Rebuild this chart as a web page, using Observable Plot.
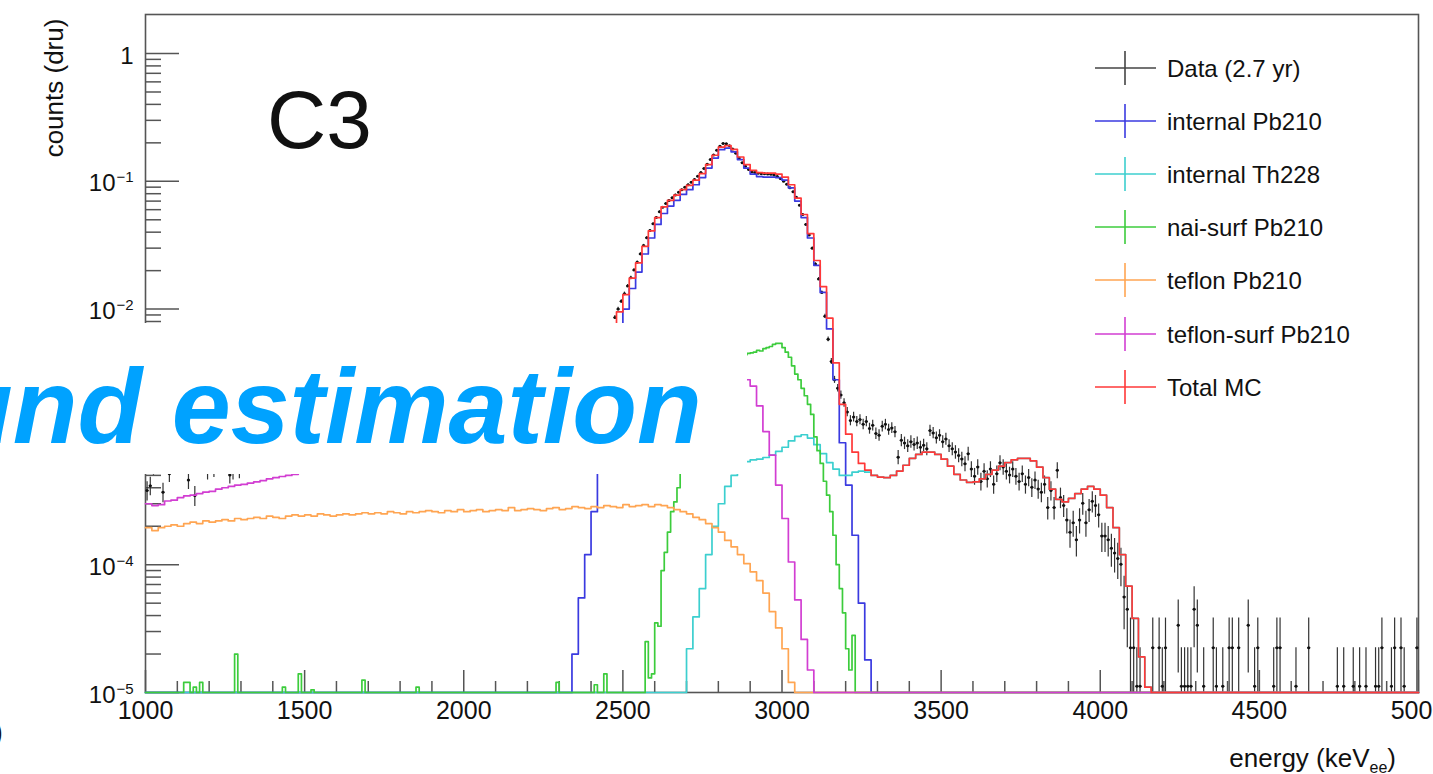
<!DOCTYPE html>
<html><head><meta charset="utf-8">
<script src="https://cdn.jsdelivr.net/npm/d3@7"></script>
<script src="https://cdn.jsdelivr.net/npm/@observablehq/plot@0.6"></script>
<style>
html,body{margin:0;padding:0;background:#fff;overflow:hidden;}
#wrap{position:relative;width:1433px;height:774px;font-family:"Liberation Sans",Arial,Helvetica,sans-serif;}
#wrap svg{position:absolute;left:0;top:0;overflow:visible;}
</style></head><body><div id="wrap"></div>
<script>
// ---------------- axis ticks ----------------
const xTickValues = [1000,1500,2000,2500,3000,3500,4000,4500,5000];
const yTickValues = [1e-5,1e-4,1e-3,1e-2,1e-1,1];
// 10^-3 label lies under the slide-title banner in the reference, so it is left blank
const yTickExponents = ["−5","−4",null,"−2","−1",""];
const yMin = 1e-5, yMax = 2.02;

// ---------------- legend ----------------
const legendLabels = ["Data (2.7 yr)","internal Pb210","internal Th228","nai-surf Pb210","teflon Pb210","teflon-surf Pb210","Total MC"];
const legendColors = ["#444","#3a3ae0","#3ccfcf","#3ccc3c","#ffa552","#d23ed2","#ff3838"];

// ---------------- data (counts per 10 keV bin) ----------------
const druPerCount = 1.12e-5;
const dataLowStart = 1000; // 10 keV bins
const dataLowN = [34,37,52,58,55,33,60,46,57,62,60,57,55,41,60,31,62,58,64,48,61,50,62,66,60,64,45,48,62,49];
const dataMidStart = 1300, dataMidStep = 20; // region hidden behind the title banner
const dataMidN = [60,58,63,61,66,64,68,70,67,72,
  74,71,76,78,75,80,83,79,85,88,
  86,91,94,90,96,99,97,103,106,104,
  110,113,117,115,121,125,123,130,134,132,
  139,143,148,146,153,158,162,160,168,173,
  178,185,192,205,225,260,320,420,600];
const dataHighStart = 2470; // 10 keV bins
const dataHighN = [768,893,1027,1179,1357,1571,1804,2080,2411,2813,
  3232,3679,4152,4661,5161,5607,5982,6321,6652,6982,
  7321,7679,8036,8411,8795,9241,9777,10446,11250,12143,
  13214,14375,15625,16786,17679,17589,16964,15982,14821,13571,
  12500,11696,11071,10625,10446,10313,10250,10223,10196,10134,
  10000,9732,9375,8929,8482,7946,7411,6696,5804,4911,
  4107,3393,2679,2009,1536,1205,786,518,348,250,
  215,190,165,140,120,128,118,122,112,118,
  104,110,95,92,108,112,102,105,98,62,
  84,80,76,82,78,80,74,77,72,100,
  96,88,92,82,86,76,72,68,64,60,
  55,66,50,44,52,40,48,42,50,38,
  46,56,52,48,45,50,44,40,46,38,
  43,36,41,35,33,38,25,34,25,49,
  30,26,20,16,19,14,20,27,19,24,
  28,26,22,15,15,14,12,11,10,9,
  5,4,2,2,1,1,0];
const dataTailE = [4160,4180,4190,4200,4240,4250,4260,4270,4280,4290,4300,4320,4350,4360,4380,4400,4410,4430,4460,4480,4490,4540,4550,4560,4610,4650,4740,4760,4790,4810,4830,4860,4870,4880,4910,4920,4940,4950,4990];
const dataTailN = [2,2,1,2,3,1,1,1,1,4,3,1,2,1,1,2,2,2,3,1,2,1,2,2,1,2,1,1,1,1,1,1,1,2,1,2,2,1,2];

// ---------------- MC histograms (dru) ----------------
const blueStart = 2340; // internal Pb210, 20 keV bins
const blueValues = [2.0e-5,5.5e-5,1.2e-4,2.6e-4,5.5e-4,1.4e-3,3.6e-3,6.5e-3,1.0e-2,1.45e-2,
  1.95e-2,2.7e-2,3.6e-2,4.6e-2,5.6e-2,6.4e-2,7.1e-2,7.9e-2,8.6e-2,9.4e-2,
  0.107,0.127,0.152,0.177,0.182,0.17,0.148,0.127,0.114,0.109,
  0.108,0.108,0.107,0.102,0.089,0.07,0.052,0.036,0.022,0.0135,
  0.007,2.8e-3,9e-4,4.2e-4,1.7e-4,5e-5,1.8e-5];
const cyanStart = 2700; // internal Th228, 20 keV bins
const cyanValues = [2.2e-5,3.9e-5,6.5e-5,1.2e-4,2.0e-4,3.0e-4,4.1e-4,5.0e-4,5.8e-4,6.4e-4,
  6.6e-4,6.7e-4,6.9e-4,7.2e-4,7.7e-4,8.3e-4,9.3e-4,1.01e-3,1.04e-3,9.8e-4,
  8.7e-4,7.4e-4,6.3e-4,5.6e-4,5.0e-4,5.0e-4,5.3e-4,5.4e-4,5.3e-4,5.0e-4,
  4.85e-4,4.8e-4,5.0e-4,5.4e-4,6.0e-4,6.8e-4,7.3e-4,7.6e-4,7.6e-4,7.3e-4,
  6.7e-4,5.9e-4,5.1e-4,4.6e-4,4.4e-4,4.45e-4,4.7e-4,5.1e-4,5.5e-4,5.9e-4,
  6.3e-4,6.6e-4,6.8e-4,6.8e-4,6.5e-4,5.8e-4,4.8e-4,3.9e-4,3.25e-4,3.1e-4,
  3.3e-4,3.6e-4,3.9e-4,4.1e-4,3.9e-4,3.5e-4,2.8e-4,1.95e-4,1.2e-4,6.8e-5,
  3.8e-5,1.9e-5,1.1e-5];
const greenStart = 2570; // nai-surf Pb210, 10 keV bins
const greenValues = [2.5e-5,1.3e-5,1.4e-5,3.5e-5,3.3e-5,9.0e-5,1.25e-4,1.8e-4,2.6e-4,3.1e-4,
  4.0e-4,5.2e-4,6.5e-4,8.0e-4,9.5e-4,1.15e-3,1.35e-3,1.6e-3,1.85e-3,2.1e-3,
  2.35e-3,2.6e-3,2.85e-3,3.1e-3,3.3e-3,3.5e-3,3.7e-3,3.9e-3,4.05e-3,4.2e-3,
  4.3e-3,4.4e-3,4.5e-3,4.55e-3,4.6e-3,4.75e-3,4.7e-3,4.9e-3,5.0e-3,5.1e-3,
  5.3e-3,5.4e-3,5.4e-3,5.0e-3,4.6e-3,4.2e-3,3.6e-3,3.1e-3,2.8e-3,2.4e-3,
  2.1e-3,1.8e-3,1.5e-3,1.0e-3,7.8e-4,6.2e-4,4.5e-4,3.5e-4,2.6e-4,1.7e-4,
  1.0e-4,6.5e-5,4.2e-5,2.2e-5,1.5e-5,2.8e-5];
const greenSpikeE = [1120,1130,1150,1170,1280,1430,1480,1520,1680,1850,2290,2410,2440];
const greenSpikeV = [1.2e-5,1.2e-5,1.1e-5,1.2e-5,2.0e-5,1.1e-5,1.4e-5,1.05e-5,1.25e-5,1.1e-5,1.2e-5,1.15e-5,1.4e-5];
const orangeStart = 1000; // teflon Pb210, 20 keV bins
const orangeValues = [1.95e-4,1.85e-4,1.95e-4,2.0e-4,2.05e-4,2.0e-4,2.1e-4,2.15e-4,2.1e-4,2.2e-4,
  2.15e-4,2.2e-4,2.25e-4,2.2e-4,2.3e-4,2.25e-4,2.3e-4,2.35e-4,2.3e-4,2.4e-4,
  2.35e-4,2.3e-4,2.4e-4,2.45e-4,2.4e-4,2.45e-4,2.4e-4,2.5e-4,2.45e-4,2.4e-4,
  2.45e-4,2.5e-4,2.45e-4,2.5e-4,2.55e-4,2.5e-4,2.55e-4,2.5e-4,2.6e-4,2.55e-4,
  2.5e-4,2.6e-4,2.55e-4,2.6e-4,2.65e-4,2.6e-4,2.55e-4,2.65e-4,2.6e-4,2.7e-4,
  2.6e-4,2.65e-4,2.7e-4,2.6e-4,2.65e-4,2.7e-4,2.65e-4,2.8e-4,2.65e-4,2.7e-4,
  2.75e-4,2.7e-4,2.65e-4,2.75e-4,2.8e-4,2.7e-4,2.75e-4,2.85e-4,2.8e-4,2.75e-4,
  2.85e-4,2.8e-4,2.9e-4,2.85e-4,2.8e-4,2.95e-4,2.85e-4,2.9e-4,2.95e-4,2.85e-4,
  2.95e-4,2.9e-4,2.8e-4,2.7e-4,2.6e-4,2.5e-4,2.35e-4,2.25e-4,2.1e-4,1.95e-4,
  1.8e-4,1.55e-4,1.38e-4,1.2e-4,1.02e-4,8.8e-5,7.5e-5,6.0e-5,4.3e-5,3.2e-5,
  2.2e-5,1.2e-5];
const magentaStart = 1000; // teflon-surf Pb210, 20 keV bins
const magentaValues = [3.0e-4,2.9e-4,2.95e-4,3.15e-4,3.2e-4,3.35e-4,3.45e-4,3.5e-4,3.6e-4,3.7e-4,
  3.75e-4,3.9e-4,4.0e-4,4.1e-4,4.2e-4,4.25e-4,4.35e-4,4.45e-4,4.55e-4,4.7e-4,
  4.8e-4,4.9e-4,5.0e-4,5.1e-4,5.3e-4,5.4e-4,5.5e-4,5.7e-4,5.8e-4,6.0e-4,
  6.1e-4,6.3e-4,6.5e-4,6.6e-4,6.8e-4,7.0e-4,7.2e-4,7.4e-4,7.6e-4,7.8e-4,
  8.0e-4,8.3e-4,8.5e-4,8.8e-4,9.0e-4,9.3e-4,9.6e-4,9.9e-4,1.02e-3,1.05e-3,
  1.08e-3,1.11e-3,1.14e-3,1.18e-3,1.21e-3,1.25e-3,1.29e-3,1.33e-3,1.37e-3,1.41e-3,
  1.45e-3,1.5e-3,1.55e-3,1.6e-3,1.65e-3,1.7e-3,1.75e-3,1.8e-3,1.86e-3,1.92e-3,
  1.98e-3,2.04e-3,2.1e-3,2.16e-3,2.22e-3,2.28e-3,2.34e-3,2.4e-3,2.46e-3,2.5e-3,
  2.55e-3,2.6e-3,2.64e-3,2.68e-3,2.72e-3,2.75e-3,2.78e-3,2.8e-3,2.82e-3,2.84e-3,
  2.85e-3,2.86e-3,2.85e-3,2.83e-3,2.8e-3,2.5e-3,1.75e-3,1.1e-3,7.2e-4,4.2e-4,
  2.3e-4,1.05e-4,5.3e-5,2.6e-5,1.5e-5];
const redStart = 1000; // Total MC, 20 keV bins
const redValues = [5.3e-4,
  6.3e-4,6.5e-4,6.4e-4,6.7e-4,6.8e-4,6.9e-4,7.1e-4,7.0e-4,7.3e-4,7.4e-4,
  7.6e-4,7.5e-4,7.8e-4,7.9e-4,8.1e-4,8.2e-4,8.4e-4,8.5e-4,8.7e-4,8.9e-4,
  9.0e-4,9.3e-4,9.4e-4,9.7e-4,9.9e-4,1.01e-3,1.04e-3,1.06e-3,1.09e-3,1.11e-3,
  1.14e-3,1.16e-3,1.2e-3,1.22e-3,1.26e-3,1.29e-3,1.33e-3,1.36e-3,1.4e-3,1.44e-3,
  1.48e-3,1.52e-3,1.57e-3,1.61e-3,1.66e-3,1.71e-3,1.76e-3,1.81e-3,1.86e-3,1.92e-3,
  1.97e-3,2.03e-3,2.09e-3,2.15e-3,2.21e-3,2.28e-3,2.34e-3,2.41e-3,2.48e-3,2.55e-3,
  2.62e-3,2.7e-3,2.78e-3,2.86e-3,2.94e-3,3.02e-3,3.12e-3,3.25e-3,3.45e-3,3.8e-3,
  4.4e-3,5.3e-3,
  7.0e-3,9.5e-3,1.3e-2,1.75e-2,2.3e-2,3.1e-2,4.1e-2,5.2e-2,6.3e-2,7.1e-2,
  7.8e-2,8.6e-2,9.3e-2,0.102,0.115,0.135,0.16,0.185,0.19,0.178,
  0.155,0.135,0.122,0.117,0.116,0.116,0.114,0.108,0.094,0.074,
  0.055,0.039,0.024,0.015,0.0085,0.0038,1.8e-3,1.05e-3,7.6e-4,6.2e-4,
  5.5e-4,5.0e-4,
  4.85e-4,4.8e-4,5.0e-4,5.4e-4,6.0e-4,6.8e-4,7.3e-4,7.6e-4,7.6e-4,7.3e-4,
  6.7e-4,5.9e-4,5.1e-4,4.6e-4,4.4e-4,4.45e-4,4.7e-4,5.1e-4,5.5e-4,5.9e-4,
  6.3e-4,6.6e-4,6.8e-4,6.8e-4,6.5e-4,5.8e-4,4.8e-4,3.9e-4,3.25e-4,3.1e-4,
  3.3e-4,3.6e-4,3.9e-4,4.1e-4,3.9e-4,3.5e-4,2.8e-4,1.95e-4,1.2e-4,6.8e-5,
  3.8e-5,1.9e-5,1.1e-5];

// ---------------- build tables ----------------
const E0 = 1000, E1 = 5000;
function histRows(width, lookup) {
  const rows = d3.range(E0, E1, width).map(e => ({e, v: Math.max(lookup(e) || 0, yMin)}));
  rows.push({e: E1, v: rows[rows.length - 1].v});
  return rows;
}
const arrLookup = (start, width, vals) => e => {
  const i = Math.round((e - start) / width);
  return (i >= 0 && i < vals.length) ? vals[i] : 0;
};
const greenSpikes = new Map(greenSpikeE.map((e, i) => [e, greenSpikeV[i]]));
const series = [
  {color: legendColors[1], rows: histRows(20, arrLookup(blueStart, 20, blueValues))},
  {color: legendColors[2], rows: histRows(20, arrLookup(cyanStart, 20, cyanValues))},
  {color: legendColors[3], rows: histRows(10, e => arrLookup(greenStart, 10, greenValues)(e) || greenSpikes.get(e) || 0)},
  {color: legendColors[4], rows: histRows(20, arrLookup(orangeStart, 20, orangeValues))},
  {color: legendColors[5], rows: histRows(20, arrLookup(magentaStart, 20, magentaValues))},
  {color: legendColors[6], rows: histRows(20, arrLookup(redStart, 20, redValues))}
];

const dataRows = [];
function addData(e, n, w) {
  if (!n) return;
  const v = n * druPerCount, s = Math.sqrt(n) * druPerCount;
  dataRows.push({e: e + w / 2, x1: e, x2: e + w, v, lo: Math.max(v - s, yMin), hi: v + s});
}
dataLowN.forEach((n, i) => addData(dataLowStart + 10 * i, n, 10));
dataMidN.forEach((n, i) => addData(dataMidStart + dataMidStep * i, n, 10));
dataHighN.forEach((n, i) => addData(dataHighStart + 10 * i, n, 10));
dataTailN.forEach((n, i) => addData(dataTailE[i], n, 10));

const xMinorTicks = d3.range(1000, 5001, 100).filter(d => d % 500 !== 0);
const yMinorTicks = yTickValues.slice(0, -1).flatMap(d => d3.range(2, 10).map(k => k * d));
const yOne = yTickValues.filter((d, i) => yTickExponents[i] === "");
const yPow = yTickValues.filter((d, i) => yTickExponents[i]);

const W = 1433, H = 774, mL = 145, mR = 15, mT = 14, mB = 82;
const fw = W - mL - mR, fh = H - mT - mB;
const axisColor = "#555";

const plot = Plot.plot({
  width: W, height: H,
  marginLeft: mL, marginRight: mR, marginTop: mT, marginBottom: mB,
  x: {domain: [E0, E1], axis: null},
  y: {type: "log", domain: [yMin, yMax], axis: null},
  style: {fontFamily: "'Liberation Sans', Arial, sans-serif", background: "transparent", color: "#111"},
  marks: [
    Plot.frame({stroke: axisColor, strokeWidth: 1.6}),
    Plot.tickX(xTickValues, {x: d => d, insetTop: fh - 22, stroke: axisColor, strokeWidth: 1.5}),
    Plot.tickX(xMinorTicks, {x: d => d, insetTop: fh - 11, stroke: axisColor, strokeWidth: 1.5}),
    Plot.tickY(yTickValues, {y: d => d, insetRight: fw - 34, stroke: axisColor, strokeWidth: 1.5}),
    Plot.tickY(yMinorTicks, {y: d => d, insetRight: fw - 16, stroke: axisColor, strokeWidth: 1.5}),
    Plot.text(xTickValues, {x: d => d, frameAnchor: "bottom", text: d => String(d), lineAnchor: "bottom", dy: 26, fontSize: 25, fill: "#111"}),
    Plot.text(yOne, {y: d => d, frameAnchor: "left", text: () => "1", textAnchor: "end", lineAnchor: "bottom", dx: -12, dy: 10, fontSize: 24, fill: "#111"}),
    Plot.text(yPow, {y: d => d, frameAnchor: "left", text: () => "10", textAnchor: "end", lineAnchor: "bottom", dx: -30, dy: 10, fontSize: 24, fill: "#111"}),
    Plot.text(yPow, {y: d => d, frameAnchor: "left", text: d => yTickExponents[yTickValues.indexOf(d)], textAnchor: "end", lineAnchor: "bottom", dx: -12, dy: 1, fontSize: 15, fill: "#111"}),
    // data
    Plot.ruleX(dataRows, {x: "e", y1: "lo", y2: "hi", stroke: "#333", strokeWidth: 1.2}),
    Plot.link(dataRows, {x1: "x1", x2: "x2", y1: "v", y2: "v", stroke: "#333", strokeWidth: 1.2}),
    Plot.dot(dataRows, {x: "e", y: "v", r: 1.5, fill: "#111"}),
    // MC
    ...series.map(s => Plot.line(s.rows, {x: "e", y: "v", curve: "step-after", stroke: s.color, strokeWidth: 1.7}))
  ]
});
const wrap = document.getElementById("wrap");
wrap.appendChild(plot);

// ---------------- overlays ----------------
const ov = d3.select(wrap).append("svg").attr("width", W).attr("height", H)
  .style("font-family", "'Liberation Sans', Arial, sans-serif").style("pointer-events", "none");
ov.append("text").attr("x", 267).attr("y", 148).style("font-size", "82px").attr("fill", "#111").text("C3");
ov.append("text").attr("transform", "translate(63,88) rotate(-90)").attr("text-anchor", "middle")
  .style("font-size", "26px").attr("fill", "#111").text("counts (dru)");
const xt = ov.append("text").attr("x", 1396).attr("y", 767).attr("text-anchor", "end").style("font-size", "26px").attr("fill", "#111");
xt.append("tspan").text("energy (keV");
xt.append("tspan").attr("dy", 6).style("font-size", "16px").text("ee");
xt.append("tspan").attr("dy", -6).text(")");
ov.append("text").attr("x", -7).attr("y", 742).style("font-size", "30px").attr("fill", "#111").text(")");
// legend
const legendY = [68, 121, 174, 227, 280, 334, 387];
legendLabels.forEach((lab, i) => {
  const g = ov.append("g").attr("transform", `translate(0,${legendY[i]})`);
  g.append("line").attr("x1", 1095).attr("x2", 1156).attr("y1", 0).attr("y2", 0).attr("stroke", legendColors[i]).attr("stroke-width", 1.6);
  g.append("line").attr("x1", 1125).attr("x2", 1125).attr("y1", -17).attr("y2", 17).attr("stroke", legendColors[i]).attr("stroke-width", 1.6);
  g.append("text").attr("x", 1167).attr("y", 9).style("font-size", "24px").attr("fill", "#111").text(lab);
});
// title banner of the slide covering part of the chart
ov.append("rect").attr("x", 0).attr("y", 323).attr("width", 747).attr("height", 151).attr("fill", "#fff");
ov.append("text").attr("x", -52).attr("y", 443).style("font-size", "106px").style("font-weight", "bold").style("font-style", "italic")
  .attr("fill", "#00a2ff").text("und estimation");
</script></body></html>
